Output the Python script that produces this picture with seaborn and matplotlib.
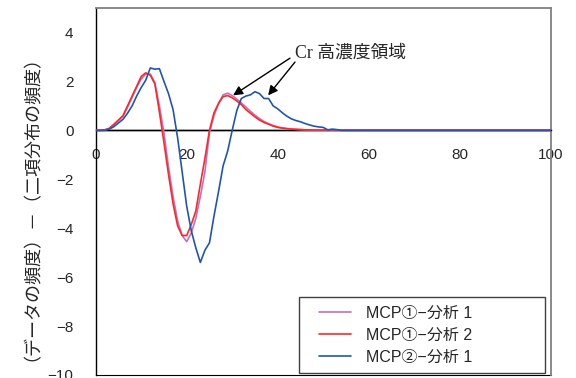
import numpy as np
import pandas as pd
import matplotlib
matplotlib.use("Agg")
import matplotlib.pyplot as plt
from matplotlib.lines import Line2D
from matplotlib.legend_handler import HandlerLine2D
import seaborn as sns

# データ (x = 0..54 と 100, 値は図から読み取り)
x_vals = list(range(0, 55)) + [100]

mcp1_a1 = [0, 0, 0.02, 0.08, 0.22, 0.40, 0.58, 0.95, 1.35, 1.75,
           2.10, 2.30, 2.30, 1.95, 1.00, -0.10, -1.50, -2.70, -3.70, -4.30,
           -4.55, -4.20, -3.60, -2.70, -1.70, -0.10, 0.60, 1.10, 1.45, 1.52,
           1.42, 1.28, 1.12, 0.95, 0.78, 0.62, 0.48, 0.36, 0.27, 0.20,
           0.14, 0.10, 0.07, 0.05, 0.04, 0.03, 0.02, 0.02, 0.01, 0.01,
           0.0, 0.01, 0.01, 0.0, 0.0, 0.0]

mcp1_a2 = [0, 0, 0.02, 0.08, 0.25, 0.42, 0.60, 1.00, 1.40, 1.80,
           2.20, 2.35, 2.25, 1.90, 0.75, -0.50, -1.80, -3.00, -3.90, -4.30,
           -4.30, -3.85, -3.30, -2.20, -1.15, 0.00, 0.72, 1.10, 1.38, 1.42,
           1.33, 1.20, 1.05, 0.85, 0.70, 0.55, 0.42, 0.32, 0.25, 0.17,
           0.12, 0.09, 0.07, 0.05, 0.04, 0.03, 0.02, 0.02, 0.01, 0.01,
           0.01, 0.02, 0.02, 0.01, 0.0, 0.0]

mcp2_a1 = [0, 0, 0, 0.05, 0.15, 0.30, 0.45, 0.70, 1.00, 1.40,
           1.75, 2.05, 2.55, 2.50, 2.52, 2.00, 1.50, 0.85, -0.30, -1.70,
           -3.10, -4.10, -4.80, -5.40, -4.90, -4.60, -3.50, -2.50, -1.45, -0.85,
           0.00, 0.80, 1.30, 1.40, 1.45, 1.58, 1.50, 1.30, 1.30, 1.00,
           0.88, 0.72, 0.58, 0.47, 0.40, 0.35, 0.28, 0.22, 0.17, 0.14,
           0.12, 0.02, 0.05, 0.03, 0.0, 0.0]

series_names = ["MCP①−分析 1", "MCP①−分析 2", "MCP②−分析 1"]
series_colors = ["#c070c8", "#ff2828", "#2255b0"]

x_ticks = [0, 20, 40, 60, 80, 100]
y_ticks = [-10, -8, -6, -4, -2, 0, 2, 4]

ylabel_text = "（データの頻度）－（二項分布の頻度）"
note_text = "Cr 高濃度領域"

df = pd.concat([
    pd.DataFrame({"x": x_vals, "y": vals, "系列": name})
    for name, vals in zip(series_names, [mcp1_a1, mcp1_a2, mcp2_a1])
])

sns.set_style("white")
plt.rcParams["font.family"] = ["Liberation Sans", "Noto Sans CJK JP", "DejaVu Sans"]

fig = plt.figure(figsize=(5.76, 3.78), dpi=100)
ax = fig.add_axes([95.7 / 576, 3 / 378, 455 / 576, 367 / 378])

ax.axhline(0, color="black", lw=1.0, zorder=1)
sns.lineplot(data=df, x="x", y="y", hue="系列", palette=series_colors,
             hue_order=series_names, ax=ax, lw=1.2, zorder=3)

ax.set_xlim(0, 100)
ax.set_ylim(-10, 5)
ax.set_xticks(x_ticks)
ax.set_yticks(y_ticks)
ax.set_xlabel("")
ax.set_ylabel(ylabel_text, fontsize=13, family=["Noto Sans CJK JP"])
ax.yaxis.set_label_coords(-0.14, 0.48)

# x軸はゼロの位置、枠は別に描く
ax.spines["bottom"].set_position(("data", 0))
ax.spines["bottom"].set_color("black")
ax.spines["left"].set_color("black")
for s in ["top", "right"]:
    ax.spines[s].set_color("#808080")
    ax.spines[s].set_linewidth(1.3)
for s in ["left", "bottom"]:
    ax.spines[s].set_linewidth(1.0)
sec = ax.secondary_xaxis("bottom")
sec.set_xticks([])
sec.spines["bottom"].set_color("black")

ax.tick_params(axis="x", direction="in", length=5, color="#707070",
               labelsize=11, pad=13)
ax.tick_params(axis="y", direction="in", length=5, color="#707070",
               labelsize=11, pad=16)

# 注記と矢印
ax.text(43.8, 3.16, note_text, ha="left", va="center", fontsize=12.8,
        family=["Liberation Serif", "Noto Sans CJK JP"])
arrow = dict(arrowstyle="-|>", color="black", lw=1.0,
             mutation_scale=14, shrinkA=0, shrinkB=0)
ax.annotate("", xy=(30.2, 1.43), xytext=(42.7, 2.95), arrowprops=arrow)
ax.annotate("", xy=(37.9, 1.43), xytext=(43.8, 2.79), arrowprops=arrow)

leg = ax.legend(loc="lower left", bbox_to_anchor=(0.447, 0.006, 0.541, 0.3),
                mode="expand", borderaxespad=0, fontsize=11.5,
                handlelength=2.75, handletextpad=0.95, labelspacing=0.45,
                borderpad=0.5, fancybox=False, framealpha=1,
                edgecolor="#404040",
                handler_map={Line2D: HandlerLine2D(xpad=0.75)})
leg.get_frame().set_linewidth(1.0)
for line in leg.get_lines():
    line.set_linewidth(1.2)

fig.savefig("out.png", dpi=100)
